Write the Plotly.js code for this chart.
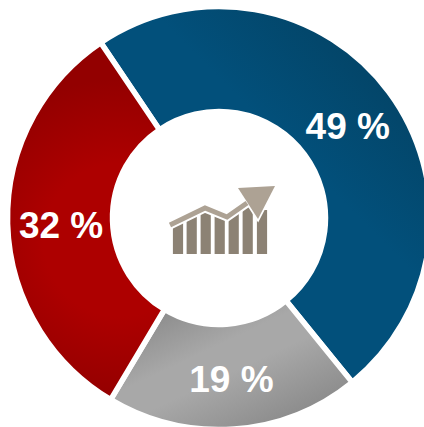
<!DOCTYPE html>
<html><head><script src="https://cdn.plot.ly/plotly-3.0.0.min.js"></script>
<style>html,body{margin:0;padding:0;background:#fff;overflow:hidden}#c{width:436px;height:434px}</style></head><body>
<div id="c"></div>
<script>
const labels=['Blue','Gray','Red'];
const values=[48.6,19.4,32];
const texts=['49 %','19 %','32 %'];
const colors=['#02507b','#a6a6a6','#ab0000'];
const barCenters=[178,191.7,205.7,219.7,233.7,247.7,262];
const barTops=[222,215,209,214,213,206,210];
const lineX=[170,205,227,247];
const lineY=[225,208,217,203];
const headX=[238,275,258,238];
const headY=[188,186,219,188];
const W=436,H=434;
const cx=219,cy=218,R=211.5;
const none={showlegend:false,hoverinfo:'skip'};
Plotly.newPlot('c',[
{type:'bar',x:barCenters,y:barTops.map(t=>254-t),base:barTops,width:10.2,marker:{color:'#8c8274'},...none},
{type:'scatter',mode:'lines',x:lineX,y:lineY,line:{color:'#fff',width:9},...none},
{type:'scatter',mode:'lines',x:headX,y:headY,line:{color:'#fff',width:3.5},...none},
{type:'scatter',mode:'lines',x:lineX,y:lineY,line:{color:'#ada294',width:5},...none},
{type:'scatter',mode:'lines',x:headX,y:headY,fill:'toself',fillcolor:'#ada294',line:{color:'#ada294',width:0},...none},
{type:'pie',labels:labels,values:values,text:texts,textinfo:'text',textposition:'inside',insidetextorientation:'horizontal',hole:0.5035,sort:false,direction:'clockwise',rotation:-34,
marker:{colors:colors,line:{color:'#fff',width:5.5}},textfont:{family:'Liberation Sans',size:37,color:'#fff',weight:'bold'},domain:{x:[(cx-R)/W,(cx+R)/W],y:[(H-cy-R)/H,(H-cy+R)/H]},...none}
],
{width:W,height:H,margin:{l:0,r:0,t:0,b:0},paper_bgcolor:'#fff',plot_bgcolor:'rgba(0,0,0,0)',
xaxis:{range:[0,W],visible:false,fixedrange:true},yaxis:{range:[H,0],visible:false,fixedrange:true}},{displayModeBar:false}).then(()=>{
  // soft gradient shading on the library's own slices
  const NS='http://www.w3.org/2000/svg';
  const defs=document.querySelector('#c svg.main-svg defs');
  function grad(id,tag,attrs,stops){
    const g=document.createElementNS(NS,tag);
    g.setAttribute('id',id);g.setAttribute('gradientUnits','userSpaceOnUse');
    Object.entries(attrs).forEach(([k,v])=>g.setAttribute(k,v));
    stops.forEach(([o,c])=>{const s=document.createElementNS(NS,'stop');s.setAttribute('offset',o);s.setAttribute('stop-color',c);g.appendChild(s);});
    defs.appendChild(g);
  }
  grad('gBlue','linearGradient',{x1:270,y1:130,x2:345,y2:55},[[0,'#02507b'],[1,'#03466a']]);
  grad('gGray','linearGradient',{x1:179.5,y1:305.8,x2:243,y2:441},[[0,'#8e8e8e'],[0.35,'#a8a8a8'],[0.55,'#a8a8a8'],[1,'#8c8c8c']]);
  grad('gRed','radialGradient',{cx:120,cy:240,r:170},[[0,'#ad0000'],[0.45,'#ad0000'],[0.95,'#930000']]);
  const ids=['gBlue','gGray','gRed'];
  document.querySelectorAll('#c .slice path.surface').forEach((p,i)=>{p.style.fill='url(#'+ids[i]+')';});
  document.querySelectorAll('#c .slicetext').forEach(t=>{t.setAttribute('transform','translate(0.5,1.5) '+(t.getAttribute('transform')||''));});
});
</script></body></html>
